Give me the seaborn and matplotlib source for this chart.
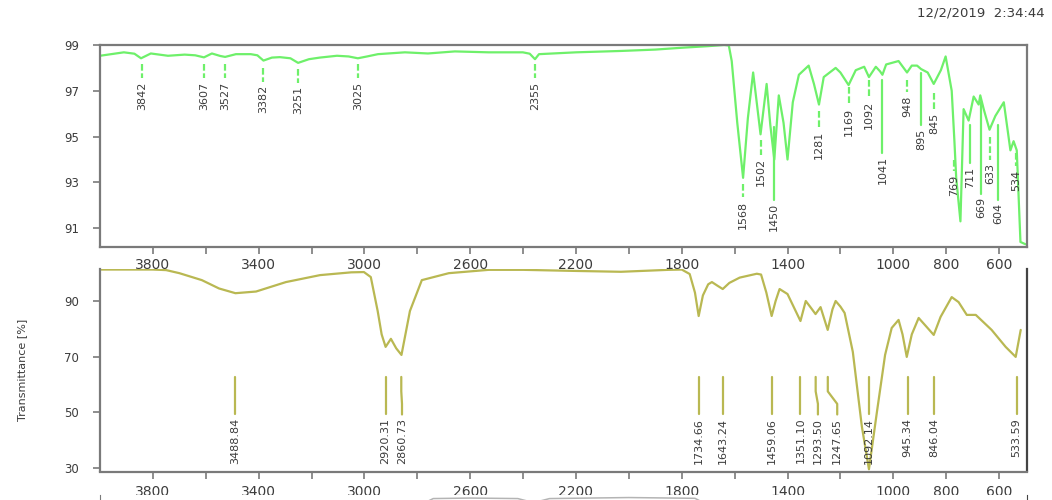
import numpy as np
import pandas as pd
import matplotlib
matplotlib.use('Agg')
import matplotlib.pyplot as plt
import seaborn as sns

# --- upper spectrum (green) ---
top_wn = [4000, 3910, 3870, 3845, 3808, 3743, 3680, 3640, 3607, 3577, 3545, 3527,
          3486, 3430, 3405, 3382, 3350, 3320, 3280, 3251, 3210, 3169, 3104, 3060,
          3025, 2990, 2949, 2847, 2760, 2658, 2530, 2401, 2375, 2355, 2340, 2200,
          2030, 1900, 1800, 1700, 1640, 1622, 1611, 1590, 1568, 1550, 1530, 1502,
          1479, 1465, 1450, 1433, 1415, 1400, 1380, 1357, 1320, 1300, 1281, 1263,
          1218, 1200, 1169, 1142, 1110, 1092, 1066, 1050, 1041, 1027, 980, 948,
          930, 910, 895, 870, 847, 820, 802, 779, 769, 762, 746, 734, 715, 696,
          677, 671, 658, 636, 614, 582, 557, 545, 533, 519, 500]
top_t = [98.53, 98.68, 98.62, 98.42, 98.63, 98.53, 98.58, 98.55, 98.46, 98.63, 98.52, 98.48,
         98.60, 98.60, 98.55, 98.32, 98.45, 98.47, 98.42, 98.22, 98.38, 98.45, 98.53, 98.50,
         98.42, 98.50, 98.60, 98.68, 98.63, 98.72, 98.68, 98.68, 98.62, 98.38, 98.60, 98.68,
         98.74, 98.80, 98.88, 98.95, 99.00, 98.98, 98.30, 95.60, 93.20, 95.80, 97.80, 95.10,
         97.30, 95.50, 94.00, 96.80, 95.60, 94.00, 96.50, 97.70, 98.10, 97.30, 96.40, 97.60,
         98.00, 97.80, 97.25, 97.90, 98.05, 97.60, 98.05, 97.85, 97.70, 98.15, 98.30, 97.80,
         98.10, 98.10, 97.95, 97.80, 97.30, 97.90, 98.50, 97.00, 94.85, 93.20, 91.30, 96.20,
         95.70, 96.75, 96.40, 96.80, 96.20, 95.30, 95.90, 96.50, 94.40, 94.80, 94.40, 90.40, 90.30]

top_peaks = [3842, 3607, 3527, 3382, 3251, 3025, 2355, 1568, 1502, 1450, 1281, 1169,
             1092, 1041, 948, 895, 845, 769, 711, 669, 633, 604, 534]
top_peak_labels = ['3842', '3607', '3527', '3382', '3251', '3025', '2355', '1568', '1502',
                   '1450', '1281', '1169', '1092', '1041', '948', '895', '845', '769',
                   '711', '669', '633', '604', '534']
# marker line spans (upper / lower end, %T) -- label layout
top_mark_hi = [98.17, 98.17, 98.17, 98.00, 97.95, 98.17, 98.17, 92.95, 94.85, 95.40, 96.10, 97.17,
               97.47, 97.47, 97.47, 97.78, 96.90, 94.00, 95.50, 96.50, 95.00, 95.50, 94.30]
top_mark_lo = [97.56, 97.56, 97.56, 97.40, 97.35, 97.56, 97.56, 92.36, 94.20, 92.25, 95.40, 96.40,
               96.70, 94.30, 96.95, 95.50, 96.20, 93.50, 93.85, 92.50, 94.00, 92.25, 93.70]

# --- lower spectrum (olive) ---
bot_wn = [4000, 3800, 3750, 3700, 3615, 3550, 3488, 3410, 3297, 3168, 3050, 3002,
          2976, 2950, 2935, 2920, 2900, 2880, 2860, 2845, 2828, 2783, 2681, 2530,
          2400, 2200, 2030, 1850, 1800, 1770, 1750, 1736, 1720, 1700, 1686, 1665,
          1645, 1620, 1581, 1516, 1500, 1480, 1460, 1445, 1430, 1400, 1351, 1331,
          1315, 1294, 1275, 1248, 1230, 1218, 1200, 1184, 1153, 1119, 1092, 1062,
          1031, 1006, 980, 965, 949, 930, 904, 874, 847, 821, 779, 753, 722, 688,
          628, 575, 537, 518]
bot_t = [101.3, 101.3, 101.1, 100.0, 97.5, 94.5, 92.8, 93.4, 96.8, 99.3, 100.3, 100.4,
         98.6, 86.4, 78.0, 73.5, 76.4, 73.0, 70.6, 78.0, 86.4, 97.5, 100.0, 101.2,
         101.2, 100.8, 100.5, 101.2, 101.3, 99.7, 93.0, 84.6, 92.0, 96.0, 96.8, 95.5,
         94.3, 96.5, 98.4, 99.8, 99.5, 93.0, 84.6, 90.0, 94.3, 92.5, 82.8, 90.0,
         88.0, 85.3, 87.8, 79.6, 87.0, 90.0, 88.0, 85.7, 71.7, 45.0, 29.5, 50.0,
         70.6, 80.3, 83.2, 78.0, 69.9, 78.0, 83.9, 80.7, 77.8, 84.3, 91.4, 89.6, 85.0, 85.0,
         79.6, 73.5, 69.9, 79.6]

bot_peaks = [3488.84, 2920.31, 2860.73, 1734.66, 1643.24, 1459.06, 1351.10, 1293.50,
             1247.65, 1092.14, 945.34, 846.04, 533.59]
bot_peak_labels = ['3488.84', '2920.31', '2860.73', '1734.66', '1643.24', '1459.06',
                   '1351.10', '1293.50', '1247.65', '1092.14', '945.34', '846.04', '533.59']
bot_label_wn = [3488.84, 2920.31, 2858.0, 1734.66, 1643.24, 1459.06, 1351.10, 1285.0,
                1212.0, 1092.14, 945.34, 846.04, 533.59]

# --- third spectrum, cut off at the bottom edge (grey) ---
third_wn = [4000, 2800, 2740, 2600, 2420, 2360, 2300, 2000, 1750, 1700, 500]
third_t = [95.0, 95.5, 98.6, 98.8, 98.6, 97.0, 98.6, 99.0, 98.7, 96.0, 95.0]

tick_wn = list(range(3800, 599, -200))
tick_text = ['3800', '', '3400', '', '3000', '', '2600', '', '2200', '', '1800', '',
             '1400', '', '1000', '800', '600']

GREEN = '#6ef06a'
OLIVE = '#b9b852'
SPINE = '#7a7a7a'
TXT = '#3c3c3c'

sns.set_style('white')
plt.rcParams['font.family'] = ['DejaVu Sans']


def draw_spectrum(ax, wn, t, color):
    df = pd.DataFrame({'wn': wn, 't': t})
    sns.lineplot(data=df, x='wn', y='t', ax=ax, color=color, lw=1.6,
                 sort=False, estimator=None)
    ax.set_xlim(4000, 494)
    ax.set_xlabel('')
    ax.set_ylabel('')
    for s in ax.spines.values():
        s.set_color(SPINE)
        s.set_linewidth(1.6)


def style_ticks(ax, xpad, ypad=10):
    ax.set_xticks(tick_wn)
    ax.set_xticklabels(tick_text)
    ax.tick_params(axis='x', direction='out', length=5, width=1.2, color=SPINE,
                   labelsize=10, labelcolor=TXT, pad=xpad, bottom=True)
    ax.tick_params(axis='y', direction='out', length=5, width=1.2, color=SPINE,
                   labelsize=8.5, labelcolor=TXT, pad=ypad, left=True)


fig = plt.figure(figsize=(10.52, 5.0), dpi=100)

# upper panel
ax1 = fig.add_axes([0.0951, 0.506, 0.8812, 0.404])
draw_spectrum(ax1, top_wn, top_t, GREEN)
ax1.set_ylim(90.18, 99.0)
ax1.set_yticks([91, 93, 95, 97, 99])
style_ticks(ax1, xpad=3)
for p, lab, hi, lo in zip(top_peaks, top_peak_labels, top_mark_hi, top_mark_lo):
    ls = '-' if hi - lo > 1.5 else (0, (3, 1.2))
    ax1.plot([p, p], [hi, lo], color=GREEN, lw=1.6, ls=ls)
    ax1.text(p, lo - 0.15, lab, rotation=90, ha='center', va='top',
             fontsize=8, color=TXT)

# lower panel
ax2 = fig.add_axes([0.0951, 0.057, 0.8812, 0.405])
draw_spectrum(ax2, bot_wn, bot_t, OLIVE)
ax2.set_ylim(28.7, 101.5)
ax2.set_yticks([30, 50, 70, 90])
ax2.spines['top'].set_visible(False)
ax2.spines['right'].set_color('#444444')
style_ticks(ax2, xpad=5)
for p, lp, lab in zip(bot_peaks, bot_label_wn, bot_peak_labels):
    ax2.plot([p, p, lp, lp], [62.7, 57.5, 53.0, 49.2], color=OLIVE, lw=1.6)
    ax2.text(lp, 48.0, lab, rotation=90, ha='center', va='top',
             fontsize=8, color=TXT)

# third panel, only its top edge lies inside the picture
ax3 = fig.add_axes([0.0951, -0.5, 0.8812, 0.51])
df3 = pd.DataFrame({'wn': third_wn, 't': third_t})
sns.lineplot(data=df3, x='wn', y='t', ax=ax3, color='#b4b4b4', lw=1.1,
             sort=False, estimator=None)
ax3.set_xlim(4000, 494)
ax3.set_ylim(0, 100)
ax3.set_xticks([])
ax3.set_yticks([])
ax3.set_xlabel('')
ax3.set_ylabel('')
ax3.spines['top'].set_visible(False)
ax3.spines['bottom'].set_visible(False)
ax3.spines['left'].set_color(SPINE)
ax3.spines['right'].set_color('#444444')

fig.text(0.021, 0.26, 'Transmittance [%]', rotation=90, ha='center', va='center',
         fontsize=8, color=TXT)
fig.text(0.993, 0.975, '12/2/2019  2:34:44', ha='right', va='center',
         fontsize=9.5, color=TXT)

fig.savefig('out.png', dpi=100)
